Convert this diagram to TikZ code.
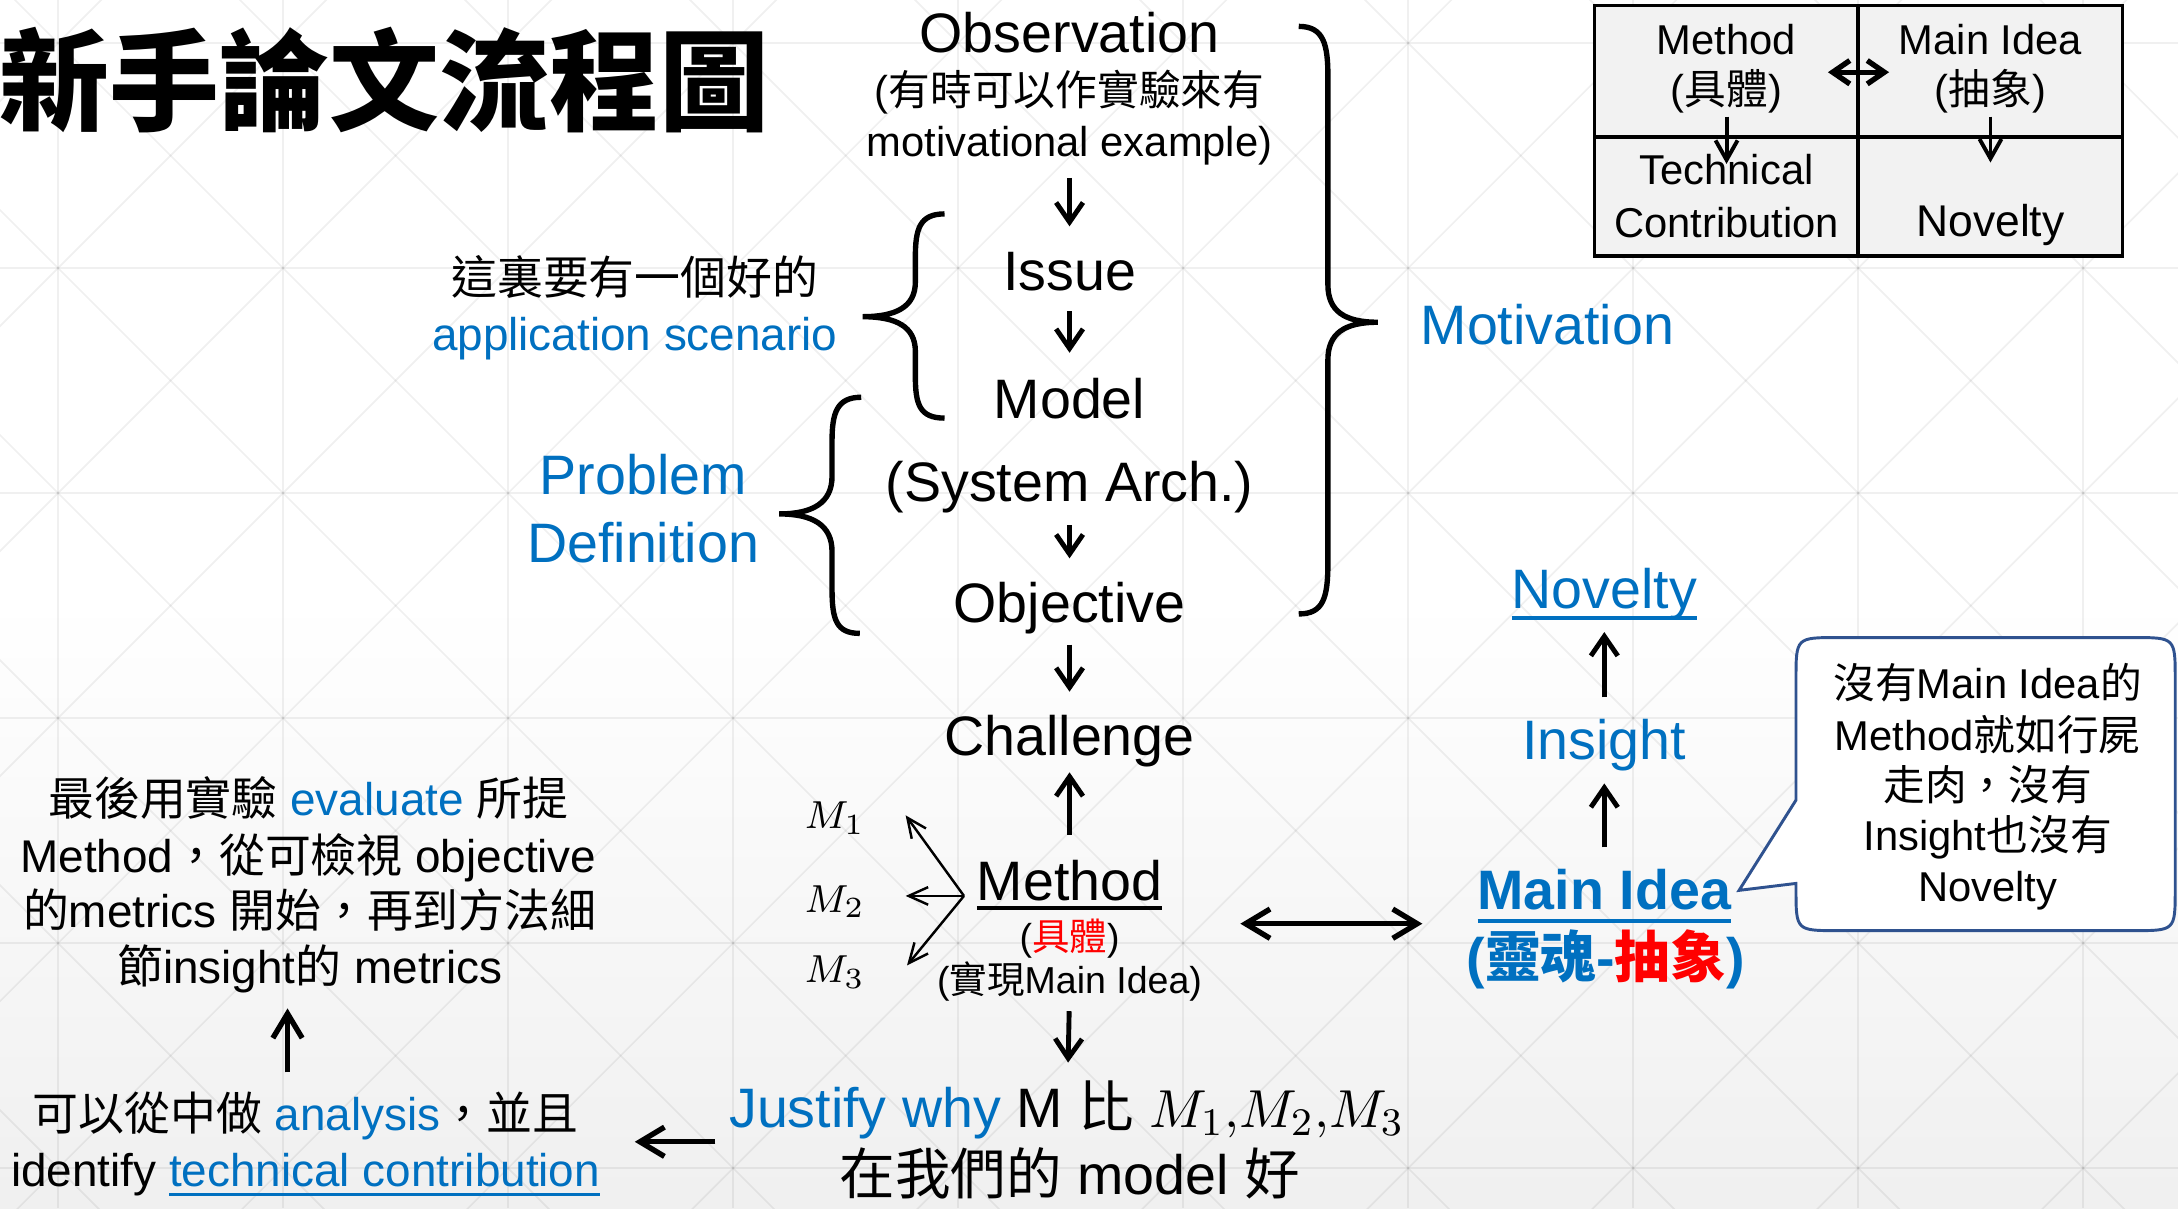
\documentclass[tikz,border=0pt]{standalone}
\usepackage[no-math]{fontspec}
\setmainfont{Liberation Sans}
\newfontfamily\cjk{Noto Sans CJK TC}
\usetikzlibrary{arrows.meta,calc}
\definecolor{pblue}{HTML}{0070C0}
\definecolor{pred}{HTML}{FF0000}
\definecolor{cblue}{HTML}{2F528F}
\newcommand\zh[1]{{\cjk #1}}
\newcommand\ulr[3]{\setbox0\hbox{#3}\rlap{\rule[-#1]{\wd0}{#2}}\box0}
\begin{document}
\begin{tikzpicture}[x=0.01cm,y=-0.01cm,
  t40/.style={inner sep=0pt,anchor=base,font=\fontsize{11.38}{13}\selectfont},
  t40b/.style={inner sep=0pt,anchor=base,font=\fontsize{11.38}{13}\selectfont\bfseries},
  t33/.style={inner sep=0pt,anchor=base,font=\fontsize{9.39}{11}\selectfont},
  t32/.style={inner sep=0pt,anchor=base,font=\fontsize{9.1}{11}\selectfont},
  t30/.style={inner sep=0pt,anchor=base,font=\fontsize{8.54}{10}\selectfont},
  t27/.style={inner sep=0pt,anchor=base,font=\fontsize{7.68}{9}\selectfont},
  mlab/.style={inner sep=0pt,font=\fontsize{8.5}{10}\selectfont},
  marr/.style={line width=1pt,-{Straight Barb[length=4pt,width=5.5pt]}},
  barr/.style={line width=1.1pt,-{Straight Barb[length=5pt,width=6pt]}},
  darr/.style={line width=1.1pt,{Straight Barb[length=5pt,width=6pt]}-{Straight Barb[length=5pt,width=6pt]}},
  larr/.style={line width=0.5pt,-{Straight Barb[length=4pt,width=3.6pt]}},
  brace/.style={line width=1.1pt},
  cell/.style={draw,fill=black!5,line width=0.8pt,inner sep=0pt,minimum width=1.9cm},
  gridln/.style={black,opacity=0.06,line width=0.35pt},
]
\useasboundingbox (0,0) rectangle (1568,870);
\fill[white] (0,0) rectangle (1568,430);
\shade[top color=white,bottom color=black!6] (0,430) rectangle (1568,870);

% faint background lattice
\begin{scope}
\clip (0,0) rectangle (1568,870);
\foreach \k in {-1,...,9} \draw[gridln] ({41.8+162*\k},0) -- ({41.8+162*\k},870);
\foreach \k in {0,...,5} \draw[gridln] (0,{31+162*\k}) -- (1568,{31+162*\k});
\foreach \k in {-10,...,6} \draw[gridln] (-100,{-110.8+162*\k}) -- (1700,{1689.2+162*\k});
\foreach \k in {-1,...,16} \draw[gridln] (-100,{172.8+162*\k}) -- (1700,{-1627.2+162*\k});
\end{scope}

% title
\node[anchor=base west,inner sep=0pt,font=\fontsize{22.5}{27}\selectfont\cjk\bfseries] (title) at (-1,88) {新手論文流程圖};

% central column
\node[t40] (obs1) at (770,38) {Observation};
\node[t30] (obs2) at (770,76) {(\zh{有時可以作實驗來有}};
\node[t30] (obs3) at (770,113) {motivational example)};
\node[t40] (issue) at (770,209) {Issue};
\node[t40] (model) at (770,301) {Model};
\node[t40] (sys) at (770,361) {(System Arch.)};
\node[t40] (obj) at (770,448) {Objective};
\node[t40] (chal) at (770,544) {Challenge};
\node[t40] (meth) at (770,648) {\ulr{2pt}{0.8pt}{Method}};
\node[t27] (meth2) at (770,684) {(\textcolor{pred}{\zh{具體}})};
\node[t27] (meth3) at (770,715) {(\zh{實現}Main Idea)};
\node[t40] (just) at (768,812) {\textcolor{pblue}{Justify why} M \zh{比} $M_1,\!M_2,\!M_3$};
\node[t40] (just2) at (770,860) {\zh{在我們的} model \zh{好}};

\draw[marr,shorten <=0.15cm,shorten >=0.46cm] (obs3.base) -- (issue.base);
\draw[marr,shorten <=0.15cm,shorten >=0.47cm] (issue.base) -- (model.base);
\draw[marr,shorten <=0.17cm,shorten >=0.46cm] (sys.base) -- (obj.base);
\draw[marr,shorten <=0.16cm,shorten >=0.46cm] (obj.base) -- (chal.base);
\draw[marr,shorten <=0.47cm,shorten >=0.12cm] (meth.base) -- (chal.base);
\draw[marr,shorten <=0.13cm,shorten >=0.47cm] (meth3.base) -- (just.base);

% braces and their labels
\draw[brace] (680,154) .. controls (662,154) and (659,165) .. (659,185) -- (659,203)
  .. controls (659,221) and (645,228) .. (621,228)
  .. controls (645,228) and (659,235) .. (659,253) -- (659,271)
  .. controls (659,291) and (662,301) .. (680,301);
\draw[brace] (620,286) .. controls (602,286) and (599,298) .. (599,318) -- (599,343)
  .. controls (599,362) and (585,370) .. (561,370)
  .. controls (585,370) and (599,378) .. (599,397) -- (599,424)
  .. controls (599,446) and (602,456) .. (619,456);
\draw[brace] (935,19) .. controls (953,19) and (956,32) .. (956,55) -- (956,205)
  .. controls (956,224) and (968,232) .. (992,232)
  .. controls (968,232) and (956,240) .. (956,259) -- (956,405)
  .. controls (956,430) and (953,442) .. (935,442);

\node[t33] (app1) at (457,212) {\zh{這裏要有一個好的}};
\node[t33,text=pblue] (app2) at (457,252) {application scenario};
\node[t40,text=pblue] (pd1) at (463,356) {Problem};
\node[t40,text=pblue] (pd2) at (463,405) {Definition};
\node[t40,text=pblue] (motiv) at (1114,248) {Motivation};

% M alternatives
\coordinate (mj) at (694,645);
\coordinate (m1tip) at (652,587);
\coordinate (m2tip) at (652,645);
\coordinate (m3tip) at (653,695);
\draw[larr] (mj) -- (m1tip);
\draw[larr] (mj) -- (m2tip);
\draw[larr] (mj) -- (m3tip);
\node[mlab] (m1) at (601,589) {$M_1$};
\node[mlab] (m2) at (601,649) {$M_2$};
\node[mlab] (m3) at (601,700) {$M_3$};

% right column
\node[t40,text=pblue] (nov) at (1155,438) {\ulr{2.3pt}{0.7pt}{Novelty}};
\node[t40,text=pblue] (ins) at (1155,547) {Insight};
\node[t40b,text=pblue] (mi) at (1155,655) {\ulr{2.6pt}{0.8pt}{Main Idea}};
\node[t40b] (mi2) at (1156,704) {\textcolor{pblue}{(\zh{靈魂}-}\textcolor{pred}{\zh{抽象}}\textcolor{pblue}{)}};
\draw[marr,shorten <=0.45cm,shorten >=0.17cm] (ins.base) -- (nov.base);
\draw[marr,shorten <=0.45cm,shorten >=0.17cm] (mi.base) -- (ins.base);
\coordinate (da1) at (893,665);
\coordinate (da2) at (1024,665);
\draw[darr] (da1) -- (da2);

% callout
\draw[cblue,line width=0.6pt,fill=white] (1293,576) -- (1293,489) .. controls (1293,459) .. (1323,459)
  -- (1536,459) .. controls (1566,459) .. (1566,489) -- (1566,640)
  .. controls (1566,670) .. (1536,670) -- (1323,670) .. controls (1293,670) .. (1293,640)
  -- (1293,636) -- (1252,641) -- cycle;
\node[t30] (cl1) at (1431,503) {\zh{沒有}Main Idea\zh{的}};
\node[t30] (cl2) at (1431,540) {Method\zh{就如行屍}};
\node[t30] (cl3) at (1431,576) {\zh{走肉，沒有}};
\node[t30] (cl4) at (1431,612) {Insight\zh{也沒有}};
\node[t30] (cl5) at (1431,649) {Novelty};

% lower left
\node[t33] (lt1) at (222,587) {\zh{最後用實驗} \textcolor{pblue}{evaluate} \zh{所提}};
\node[t33] (lt2) at (222,628) {Method\zh{，從可檢視} objective};
\node[t33] (lt3) at (223,668) {\zh{的}metrics \zh{開始，再到方法細}};
\node[t33] (lt4) at (223,708) {\zh{節}insight\zh{的} metrics};
\node[t33] (bl1) at (220,814) {\zh{可以從中做} \textcolor{pblue}{analysis}\zh{，並且}};
\node[t33] (bl2) at (220,854) {identify \textcolor{pblue}{\ulr{2pt}{0.7pt}{technical contribution}}};
\coordinate (ua1) at (207,772);
\coordinate (ua2) at (207,726);
\draw[barr] (ua1) -- (ua2);
\coordinate (la1) at (515,822);
\coordinate (la2) at (457,822);
\draw[barr] (la1) -- (la2);

% table
\node[cell,minimum height=0.95cm] (c11) at (1243,51.5) {};
\node[cell,minimum height=0.95cm] (c12) at (1433,51.5) {};
\node[cell,minimum height=0.855cm] (c21) at (1243,141.25) {};
\node[cell,minimum height=0.855cm] (c22) at (1433,141.25) {};
\node[t30] (tm1) at (1243,39) {Method};
\node[t30] (tm2) at (1243,75) {(\zh{具體})};
\node[t30] (ti1) at (1433,39) {Main Idea};
\node[t30] (ti2) at (1433,75) {(\zh{抽象})};
\node[t30] (tt1) at (1243,133) {Technical};
\node[t30] (tt2) at (1243,171) {Contribution};
\node[t32] (tn) at (1433,170) {Novelty};
\coordinate (ta1) at (1316,52);
\coordinate (ta2) at (1360,52);
\draw[line width=1.1pt,{Straight Barb[length=3.5pt,width=4.8pt]}-{Straight Barb[length=3.5pt,width=4.8pt]}] (ta1) -- (ta2);
\coordinate (tb1) at (1243,84);
\coordinate (tb2) at (1243,118);
\coordinate (tc1) at (1433,84);
\coordinate (tc2) at (1433,117);
\draw[line width=0.8pt,-{Straight Barb[length=4pt,width=4.5pt]}] (tb1) -- (tb2);
\draw[line width=0.8pt,-{Straight Barb[length=4pt,width=4.5pt]}] (tc1) -- (tc2);
\end{tikzpicture}
\end{document}
